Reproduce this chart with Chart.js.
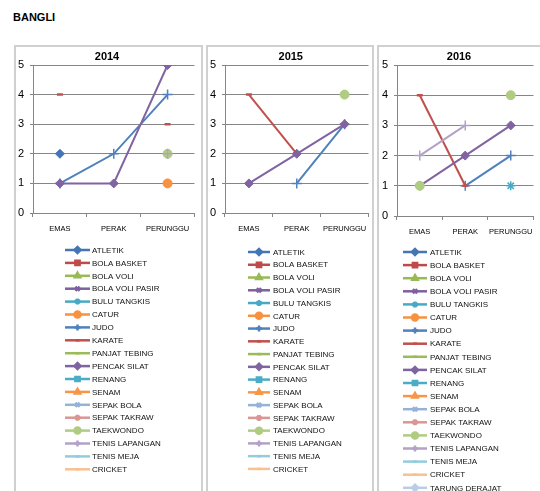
<!DOCTYPE html>
<html>
<head>
<meta charset="utf-8">
<script src="https://cdn.jsdelivr.net/npm/chart.js@4.4.0/dist/chart.umd.min.js"></script>
<style>
    body { margin: 0; background: #fff; width: 540px; height: 491px; overflow: hidden; position: relative;
           font-family: "Liberation Sans", Arial, sans-serif; }
    #title { position: absolute; left: 13px; top: 11px; font-size: 11px; font-weight: bold; color: #000; }
    .panel { position: absolute; top: 45px; height: 460px; border: 2px solid #d0d0d0; background: #fff; overflow: hidden; }
    .panel canvas { position: absolute; left: 0; top: 0; }
</style>
</head>
<body>
<div id="title">BANGLI</div>
<div class="panel" style="left:14px; width:185px;"><canvas id="chart2014"></canvas></div>
<div class="panel" style="left:206px; width:164px;"><canvas id="chart2015"></canvas></div>
<div class="panel" style="left:377px; width:170px;"><canvas id="chart2016"></canvas></div>

<script>
// Medal categories (x axis) and the value axis
const categories = ['EMAS', 'PERAK', 'PERUNGGU'];
const yTicks = [0, 1, 2, 3, 4, 5];

const sports = ['ATLETIK', 'BOLA BASKET', 'BOLA VOLI', 'BOLA VOLI PASIR', 'BULU TANGKIS', 'CATUR',
    'JUDO', 'KARATE', 'PANJAT TEBING', 'PENCAK SILAT', 'RENANG', 'SENAM', 'SEPAK BOLA',
    'SEPAK TAKRAW', 'TAEKWONDO', 'TENIS LAPANGAN', 'TENIS MEJA', 'CRICKET', 'TARUNG DERAJAT'];

// medals per sport: [EMAS, PERAK, PERUNGGU], null = empty cell
const N = null;
const medals2014 = [
    [2, N, N], [N, N, N], [N, N, N], [N, N, N], [N, N, N], [N, N, 1],
    [1, 2, 4], [4, N, 3], [N, N, N], [1, 1, 5], [N, N, N], [N, N, N],
    [N, N, N], [N, N, N], [N, N, 2], [N, N, 2], [N, N, N], [N, N, N]
];
const medals2015 = [
    [N, N, N], [N, N, N], [N, N, N], [N, N, N], [N, N, N], [N, N, N],
    [N, 1, 3], [4, 2, N], [N, N, N], [1, 2, 3], [N, N, N], [N, N, N],
    [N, N, N], [N, N, N], [N, N, 4], [N, N, N], [N, N, N], [N, N, N]
];
const medals2016 = [
    [N, N, N], [N, N, N], [N, N, N], [N, N, N], [N, N, 1], [N, N, N],
    [N, 1, 2], [4, 1, N], [N, N, N], [1, 2, 3], [N, N, N], [N, N, N],
    [N, N, N], [N, N, N], [1, N, 4], [2, 3, N], [N, N, N], [N, N, N], [N, N, N]
];

// series look (Excel default palette / marker cycle)
const seriesColors = ['#4475b4', '#be4b48', '#98b954', '#7d60a0', '#46aac5', '#f69240',
    '#4f81bd', '#c0504d', '#9bbb59', '#8064a2', '#4bacc6', '#f79646',
    '#95b3d7', '#d99694', '#b0cc82', '#b3a2c7', '#93cddd', '#fac090', '#b9cde5'];
const seriesMarkers = ['rectRot', 'rect', 'triangle', 'crossRot', 'star', 'circle', 'cross', 'line', 'line',
    'rectRot', 'rect', 'triangle', 'crossRot', 'star', 'circle', 'cross', 'line', 'line', 'rectRot'];
const markerRadius = { rectRot: 4.5, rect: 5, triangle: 4.5, crossRot: 4, star: 4.5, circle: 4.5, cross: 5, line: 3 };
const markerBorder = { crossRot: 1.5, star: 1.5, cross: 1.5, line: 2.5 };

const FONT = '"Liberation Sans", Arial, sans-serif';

// Plugin: vertical legend list below the plot, like the Excel one
const listLegend = {
    id: 'listLegend',
    afterDraw(chart, args, opts) {
        const ctx = chart.ctx;
        ctx.save();
        ctx.font = '8px ' + FONT;
        ctx.textBaseline = 'middle';
        chart.data.datasets.forEach((ds, i) => {
            const y = opts.y + i * opts.sp;
            ctx.strokeStyle = ds.borderColor;
            ctx.fillStyle = ds.borderColor;
            ctx.lineWidth = 2.5;
            ctx.beginPath();
            ctx.moveTo(opts.x, y);
            ctx.lineTo(opts.x + opts.len, y);
            ctx.stroke();
            Chart.helpers.drawPoint(ctx, {
                pointStyle: ds.pointStyle,
                radius: ds.pointStyle === 'line' ? 2 : 3,
                rotation: 0,
                borderWidth: ds.pointStyle === 'line' ? 2.5 : 1
            }, opts.x + opts.len / 2, y);
            ctx.fillStyle = '#111';
            ctx.fillText(ds.label, opts.tx, y + 0.5);
        });
        ctx.restore();
    }
};

function renderPanel(canvasId, year, medals, box) {
    const canvas = document.getElementById(canvasId);
    canvas.width = box.w;
    canvas.height = box.h;
    const n = medals.length;

    const datasets = medals.map((vals, i) => {
        const style = seriesMarkers[i];
        return {
            label: sports[i],
            data: vals,
            borderColor: seriesColors[i],
            backgroundColor: seriesColors[i],
            borderWidth: 2,
            tension: 0,
            spanGaps: false,
            pointStyle: style,
            pointRadius: markerRadius[style],
            pointBackgroundColor: seriesColors[i],
            pointBorderColor: seriesColors[i],
            pointBorderWidth: markerBorder[style] || 1,
            order: n - i   // later series on top, as in Excel
        };
    });

    new Chart(canvas, {
        type: 'line',
        data: { labels: categories, datasets: datasets },
        options: {
            responsive: false,
            animation: false,
            devicePixelRatio: 1,
            events: [],
            layout: {
                padding: { left: 0, top: 0, right: box.w - box.right, bottom: box.h - box.bottom - 30 }
            },
            scales: {
                x: {
                    type: 'category',
                    offset: true,
                    afterFit: s => { s.height = 30; },
                    grid: { offset: true, drawOnChartArea: false, drawTicks: true, tickLength: 4, color: '#868686' },
                    border: { display: true, color: '#868686' },
                    ticks: { font: { size: 7.5, family: FONT }, color: '#000', padding: 7.5, maxRotation: 0, autoSkip: false }
                },
                y: {
                    min: yTicks[0],
                    max: yTicks[yTicks.length - 1],
                    afterFit: s => { s.width = box.left; },
                    afterBuildTicks: s => { s.ticks = yTicks.map(v => ({ value: v })); },
                    grid: { drawTicks: true, tickLength: 3, color: '#868686' },
                    border: { display: true, color: '#868686' },
                    ticks: { font: { size: 11, family: FONT }, color: '#000', padding: 6 }
                }
            },
            plugins: {
                legend: { display: false },
                tooltip: { enabled: false },
                title: {
                    display: true,
                    text: year,
                    color: '#000',
                    font: { size: 11, weight: 'bold', family: FONT },
                    padding: { top: 3, bottom: box.top - 16.2 }
                },
                listLegend: box.legend
            }
        },
        plugins: [listLegend]
    });
}

renderPanel('chart2014', '2014', medals2014,
    { w: 185, h: 445, left: 17, right: 182, top: 18, bottom: 166,
      legend: { x: 49, len: 25, tx: 76, y: 203, sp: 12.9 } });
renderPanel('chart2015', '2015', medals2015,
    { w: 167, h: 445, left: 17, right: 165.5, top: 18, bottom: 166,
      legend: { x: 40, len: 22, tx: 65, y: 205, sp: 12.76 } });
renderPanel('chart2016', '2016', medals2016,
    { w: 162, h: 445, left: 18, right: 160, top: 18, bottom: 169,
      legend: { x: 24, len: 24, tx: 51, y: 205, sp: 13.1 } });
</script>
</body>
</html>
